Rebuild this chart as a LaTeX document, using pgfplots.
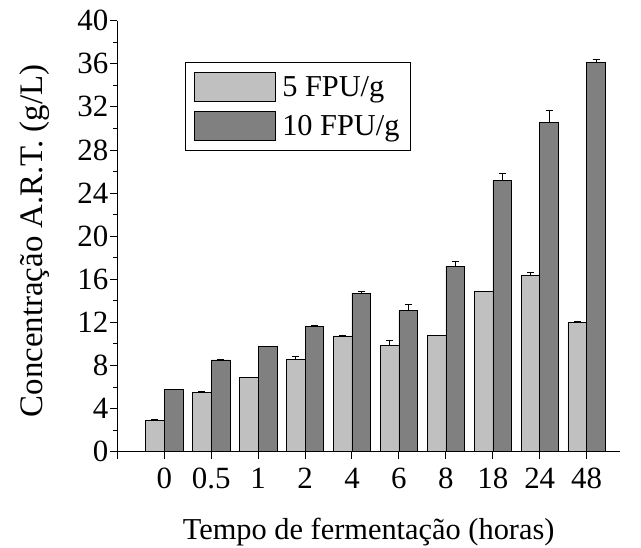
\documentclass[border=0pt]{standalone}
\usepackage{fontspec}
\setmainfont{Liberation Serif}
\usepackage{pgfplots}
\usepackage{pgfplotstable}
\pgfplotsset{compat=1.18}
\definecolor{lightbar}{RGB}{192,192,192}
\definecolor{darkbar}{RGB}{128,128,128}
\pgfplotstableread{
x y5 e5 y10 e10
0 2.94 0.03 5.75 0.04
1 5.53 0.06 8.52 0.07
2 6.88 0.04 9.75 0.05
3 8.58 0.25 11.66 0.05
4 10.74 0.04 14.71 0.18
5 9.87 0.5 13.10 0.55
6 10.77 0.05 17.20 0.5
7 14.90 0.01 25.15 0.65
8 16.38 0.28 30.57 1.08
9 12.03 0.05 36.12 0.28
}\datatable
\begin{document}
\begin{tikzpicture}[font=\fontsize{31}{36}\selectfont]
\begin{axis}[
  scale only axis, width=502.7bp, height=431bp,
  xmin=-1, xmax=9.71, ymin=0, ymax=40,
  axis x line*=bottom, axis y line*=left,
  axis line style={line width=1.2pt},
  ybar=0pt, bar width=18.7bp,
  xtick={-1,0,...,9}, xticklabels={,0,0.5,1,2,4,6,8,18,24,48},
  ytick={0,4,...,40}, minor y tick num=1,
  tick align=outside,
  major tick length=7.5bp, minor tick length=4bp,
  tick style={line width=1pt, black},
  xticklabel style={yshift=-5bp},
  yticklabel style={xshift=2bp},
  /pgf/number format/assume math mode=true,
  xlabel={Tempo de fermentação (horas)},
  ylabel={Concentração A.R.T. (g/L)},
  xlabel style={at={(axis description cs:0.5,-0.2035)}, anchor=base,
    font=\fontsize{30.5}{35}\selectfont},
  ylabel style={at={(axis description cs:-0.1653,0.489)}, anchor=center, rotate=0,
    font=\fontsize{33}{38}\selectfont},
  legend image code/.code={\draw[#1,draw=black] (0bp,-14.2bp) rectangle (80.7bp,14.2bp);},
  legend style={at={(0.1338,0.904)}, anchor=north west, draw=black, line width=0.8pt,
    font=\fontsize{30.5}{34}\selectfont, inner xsep=9bp, inner ysep=10bp,
    row sep=10bp, column sep=5bp},
  legend cell align=left,
]
\coordinate (bl) at (rel axis cs:0,0);
\addplot[fill=lightbar, draw=black, line width=0.6pt,
  error bars/.cd, y dir=plus, y explicit,
  error bar style={line width=0.8pt, black},
  error mark options={rotate=90, mark size=3.5bp, line width=0.8pt, black}]
  table[x=x, y=y5, y error=e5] {\datatable};
\addlegendentry{5 FPU/g}
\addplot[fill=darkbar, draw=black, line width=0.6pt,
  error bars/.cd, y dir=plus, y explicit,
  error bar style={line width=0.8pt, black},
  error mark options={rotate=90, mark size=3.5bp, line width=0.8pt, black}]
  table[x=x, y=y10, y error=e10] {\datatable};
\addlegendentry{10 FPU/g}
\end{axis}
\pgfresetboundingbox
\path[use as bounding box] ([xshift=-117.3bp,yshift=-96.3bp]bl) rectangle ([xshift=523.7bp,yshift=451.7bp]bl);
\end{tikzpicture}
\end{document}
